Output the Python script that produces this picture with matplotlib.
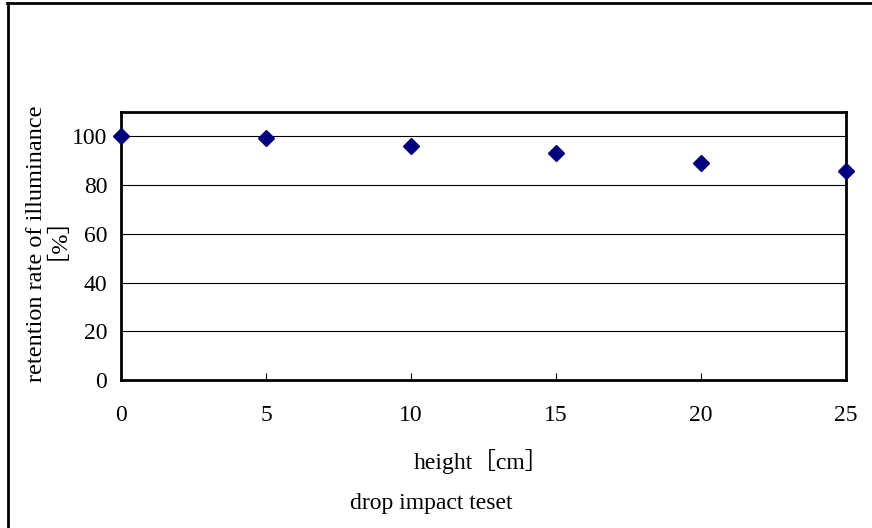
import matplotlib
matplotlib.use("Agg")
import matplotlib.pyplot as plt
from matplotlib.lines import Line2D

plt.rcParams['font.family'] = ['Liberation Serif', 'Noto Sans CJK JP']

height = [0, 5, 10, 15, 20, 25]
retention = [100, 99.2, 96.0, 93.0, 89.0, 85.7]
y_ticks = [0, 20, 40, 60, 80, 100]

fig = plt.figure(figsize=(8.72, 5.28), dpi=100)
ax = fig.add_axes([0.1388, 0.2803, 0.8314, 0.5076])

# horizontal grid
for t in y_ticks[1:]:
    ax.axhline(t, color='black', lw=0.8, zorder=1)

ax.plot(height, retention, linestyle='none', marker='D', markersize=8,
        color='#000080', clip_on=False, zorder=3)

ax.set_xlim(0, 25)
ax.set_ylim(0, 110)
ax.set_xticks(height)
ax.set_yticks(y_ticks)
ax.tick_params(axis='x', direction='in', length=5, pad=18, labelsize=17)
ax.tick_params(axis='y', length=0, pad=10, labelsize=17)
for s in ax.spines.values():
    s.set_linewidth(2)

# axis labels and caption placed as figure text
fig.text(481 / 872, 1 - 462 / 528, 'height［cm］', ha='center', va='center', fontsize=17)
fig.text(36 / 872, 1 - 244 / 528, 'retention rate of illuminance', rotation=90,
         ha='center', va='center', fontsize=17.5)
fig.text(45 / 872, 1 - 226 / 528, '［%］', rotation=90,
         ha='center', va='center', fontsize=17.5)
fig.text(0.494, 0.047, 'drop impact teset', ha='center', va='center', fontsize=17)

# outer frame (left and top edges)
fig.add_artist(Line2D([0.009, 0.009], [0, 0.994], transform=fig.transFigure,
                      color='black', lw=2))
fig.add_artist(Line2D([0.008, 1.0], [0.994, 0.994], transform=fig.transFigure,
                      color='black', lw=2))

fig.savefig('out.png', dpi=100)
